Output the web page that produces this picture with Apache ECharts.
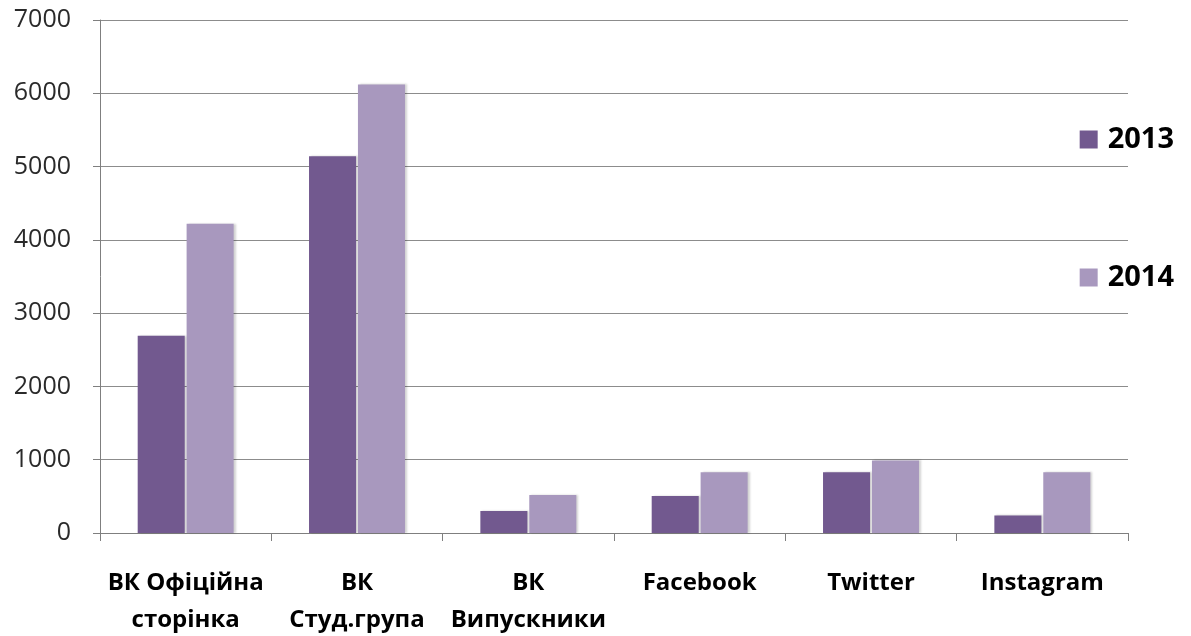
<!DOCTYPE html>
<html><head><meta charset="utf-8">
<script src="https://cdn.jsdelivr.net/npm/echarts@6/dist/echarts.min.js"></script>
<style>html,body{margin:0;padding:0;background:#fff}#c{width:1191px;height:636px}</style>
</head><body><div id="c"></div>
<script>
const categories = ['ВК Офіційна\nсторінка', 'ВК\nСтуд.група', 'ВК\nВипускники', 'Facebook', 'Twitter', 'Instagram'];
const seriesNames = ['2013', '2014'];
const values2013 = [2690, 5140, 300, 505, 830, 240];
const values2014 = [4220, 6120, 520, 830, 990, 830];
const colors = ['#72598F', '#A898BE'];

const chart = echarts.init(document.getElementById('c'), null, {renderer: 'canvas'});
const font = '"Open Sans", "Noto Sans", sans-serif';
chart.setOption({
  animation: false,
  backgroundColor: '#fff',
  grid: {left: 100, right: 63, top: 20, bottom: 103, containLabel: false, outerBoundsMode: 'none'},
  legend: {
    orient: 'vertical', right: 12, top: 120, itemGap: 109,
    itemWidth: 18, itemHeight: 18, icon: 'rect',
    textStyle: {fontFamily: font, fontSize: 29, fontWeight: 'bold', color: '#000', padding: [0, 0, 0, 5]},
    data: seriesNames
  },
  xAxis: {
    type: 'category', data: categories,
    axisLine: {lineStyle: {color: '#7f7f7f', width: 1}},
    axisTick: {show: true, length: 8, inside: false, alignWithLabel: false, lineStyle: {color: '#7f7f7f'}},
    axisLabel: {fontFamily: font, fontSize: 24, fontWeight: 'bold', color: '#000', margin: 32, lineHeight: 37, interval: 0}
  },
  yAxis: {
    type: 'value', min: 0, max: 7000, interval: 1000,
    axisLine: {show: true, lineStyle: {color: '#7f7f7f'}},
    axisTick: {show: true, length: 7, lineStyle: {color: '#7f7f7f'}},
    axisLabel: {fontFamily: font, fontSize: 25, color: '#2a2a2a', margin: 29, formatter: v => String(v)},
    splitLine: {lineStyle: {color: '#8c8c8c', width: 1}}
  },
  series: [
    {name: seriesNames[0], type: 'bar', data: values2013, barGap: '4%', barCategoryGap: '44%',
     itemStyle: {color: colors[0], shadowColor: 'rgba(0,0,0,0.18)', shadowOffsetX: 2, shadowBlur: 2}},
    {name: seriesNames[1], type: 'bar', data: values2014,
     itemStyle: {color: colors[1], shadowColor: 'rgba(0,0,0,0.18)', shadowOffsetX: 2, shadowBlur: 2}}
  ]
});
</script></body></html>
